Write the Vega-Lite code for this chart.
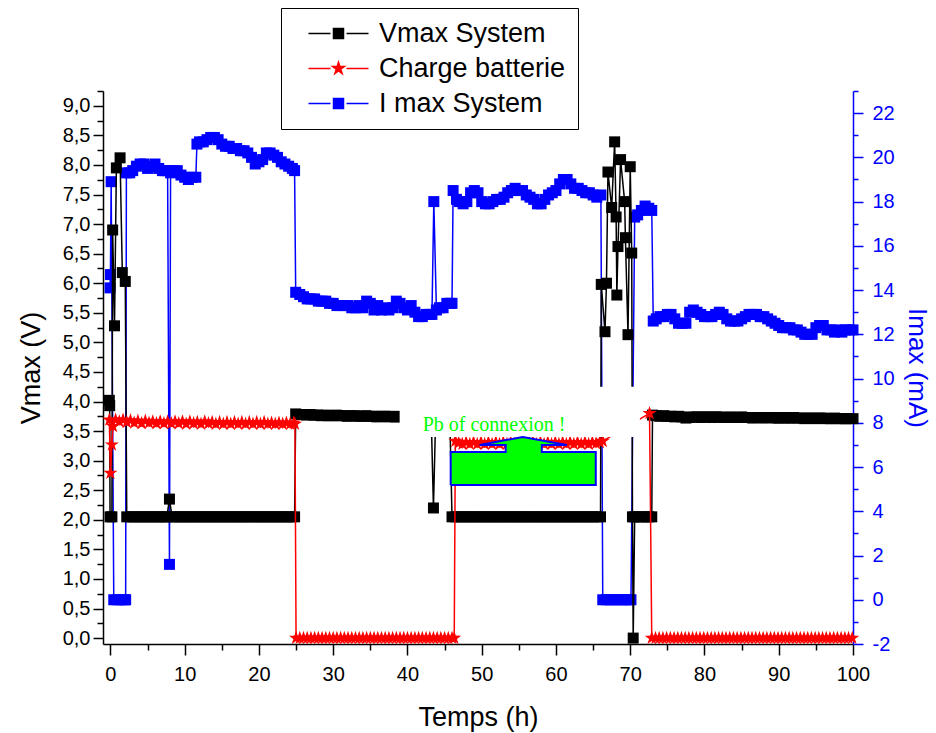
{
"$schema": "https://vega.github.io/schema/vega-lite/v6.json",
"width": 750, "height": 553,
"autosize": "none",
"padding": {"left": 103, "top": 91, "right": 83, "bottom": 89},
"background": "white",
"config": {"view": {"stroke": null}, "font": "Liberation Sans", "axis": {"grid": false, "labelFont": "Liberation Sans", "titleFont": "Liberation Sans", "titleFontWeight": "normal", "labelOverlap": false, "labelFlush": false, "labelBound": false}},
"datasets": {
"vmax": [
{"t":-0.15,"y":4.02},{"t":-0.1,"y":3.93},{"t":-0.05,"y":2.05},{"t":0.2,"y":2.05},{"t":0.3,"y":6.9},{"t":0.55,"y":5.28},{"t":0.8,"y":7.95},{"t":1.3,"y":8.12},{"t":1.6,"y":6.18},{"t":2.0,"y":6.03},{"t":2.2,"y":2.05},
{"t":2.7,"y":2.05},{"t":3.2,"y":2.05},{"t":3.7,"y":2.05},{"t":4.2,"y":2.05},{"t":4.7,"y":2.05},{"t":5.2,"y":2.05},{"t":5.7,"y":2.05},{"t":6.2,"y":2.05},{"t":6.7,"y":2.05},{"t":7.2,"y":2.05},{"t":7.6,"y":2.05},{"t":7.95,"y":2.35},{"t":8.3,"y":2.05},
{"t":8.8,"y":2.05},{"t":9.3,"y":2.05},{"t":9.8,"y":2.05},{"t":10.3,"y":2.05},{"t":10.8,"y":2.05},{"t":11.3,"y":2.05},{"t":11.8,"y":2.05},{"t":12.3,"y":2.05},{"t":12.8,"y":2.05},{"t":13.3,"y":2.05},{"t":13.8,"y":2.05},{"t":14.3,"y":2.05},{"t":14.8,"y":2.05},{"t":15.3,"y":2.05},{"t":15.8,"y":2.05},{"t":16.3,"y":2.05},{"t":16.8,"y":2.05},{"t":17.3,"y":2.05},{"t":17.8,"y":2.05},{"t":18.3,"y":2.05},{"t":18.8,"y":2.05},{"t":19.3,"y":2.05},{"t":19.8,"y":2.05},{"t":20.3,"y":2.05},{"t":20.8,"y":2.05},{"t":21.3,"y":2.05},{"t":21.8,"y":2.05},{"t":22.3,"y":2.05},{"t":22.8,"y":2.05},{"t":23.3,"y":2.05},{"t":23.8,"y":2.05},{"t":24.3,"y":2.05},{"t":24.8,"y":2.05},
{"t":24.95,"y":3.79},{"t":25.4,"y":3.78},{"t":25.9,"y":3.78},{"t":26.4,"y":3.77},{"t":26.9,"y":3.78},{"t":27.4,"y":3.77},{"t":27.9,"y":3.77},{"t":28.4,"y":3.76},{"t":28.9,"y":3.77},{"t":29.4,"y":3.76},{"t":29.9,"y":3.76},{"t":30.4,"y":3.77},{"t":30.9,"y":3.76},{"t":31.4,"y":3.76},{"t":31.9,"y":3.75},{"t":32.4,"y":3.76},{"t":32.9,"y":3.76},{"t":33.4,"y":3.75},{"t":33.9,"y":3.75},{"t":34.4,"y":3.76},{"t":34.9,"y":3.75},{"t":35.4,"y":3.75},{"t":35.9,"y":3.74},{"t":36.4,"y":3.75},{"t":36.9,"y":3.75},{"t":37.4,"y":3.74},{"t":37.9,"y":3.75},{"t":38.4,"y":3.74},{"t":38.9,"y":3.74},{"t":39.4,"y":3.75},{"t":39.9,"y":3.75},{"t":40.4,"y":3.74},{"t":40.9,"y":3.75},{"t":41.4,"y":3.75},{"t":41.9,"y":3.74},{"t":42.4,"y":3.75},{"t":42.9,"y":3.75},{"t":43.2,"y":3.75},{"t":43.5,"y":2.2},{"t":43.8,"y":3.75},{"t":44.3,"y":3.75},{"t":44.8,"y":3.74},{"t":45.3,"y":3.75},{"t":45.7,"y":3.75},
{"t":46.0,"y":2.05},{"t":46.5,"y":2.05},{"t":47.0,"y":2.05},{"t":47.5,"y":2.05},{"t":48.0,"y":2.05},{"t":48.5,"y":2.05},{"t":49.0,"y":2.05},{"t":49.5,"y":2.05},{"t":50.0,"y":2.05},{"t":50.5,"y":2.05},{"t":51.0,"y":2.05},{"t":51.5,"y":2.05},{"t":52.0,"y":2.05},{"t":52.5,"y":2.05},{"t":53.0,"y":2.05},{"t":53.5,"y":2.05},{"t":54.0,"y":2.05},{"t":54.5,"y":2.05},{"t":55.0,"y":2.05},{"t":55.5,"y":2.05},{"t":56.0,"y":2.05},{"t":56.5,"y":2.05},{"t":57.0,"y":2.05},{"t":57.5,"y":2.05},{"t":58.0,"y":2.05},{"t":58.5,"y":2.05},{"t":59.0,"y":2.05},{"t":59.5,"y":2.05},{"t":60.0,"y":2.05},{"t":60.5,"y":2.05},{"t":61.0,"y":2.05},{"t":61.5,"y":2.05},{"t":62.0,"y":2.05},{"t":62.5,"y":2.05},{"t":63.0,"y":2.05},{"t":63.5,"y":2.05},{"t":64.0,"y":2.05},{"t":64.5,"y":2.05},{"t":65.0,"y":2.05},{"t":65.5,"y":2.05},{"t":66.0,"y":2.05},
{"t":66.1,"y":5.98},{"t":66.6,"y":5.18},{"t":66.8,"y":6.0},{"t":67.0,"y":7.88},{"t":67.5,"y":7.28},{"t":67.9,"y":8.39},{"t":68.1,"y":7.12},{"t":68.2,"y":5.8},{"t":68.35,"y":6.62},{"t":68.7,"y":8.09},{"t":69.25,"y":7.38},{"t":69.35,"y":6.77},{"t":69.7,"y":5.13},{"t":70.0,"y":7.97},{"t":70.2,"y":6.51},{"t":70.3,"y":2.05},{"t":70.4,"y":0.0},{"t":70.6,"y":2.05},{"t":71.1,"y":2.05},{"t":71.6,"y":2.05},{"t":72.1,"y":2.05},{"t":72.5,"y":2.05},{"t":72.9,"y":2.05},
{"t":73.0,"y":3.77},{"t":73.5,"y":3.76},{"t":74.0,"y":3.75},{"t":74.5,"y":3.76},{"t":75.0,"y":3.75},{"t":75.5,"y":3.75},{"t":76.0,"y":3.74},{"t":76.5,"y":3.75},{"t":77.0,"y":3.74},{"t":77.5,"y":3.72},{"t":78.0,"y":3.73},{"t":78.5,"y":3.74},{"t":79.0,"y":3.74},{"t":79.5,"y":3.73},{"t":80.0,"y":3.74},{"t":80.5,"y":3.74},{"t":81.0,"y":3.73},{"t":81.5,"y":3.74},{"t":82.0,"y":3.74},{"t":82.5,"y":3.73},{"t":83.0,"y":3.73},{"t":83.5,"y":3.74},{"t":84.0,"y":3.73},{"t":84.5,"y":3.73},{"t":85.0,"y":3.74},{"t":85.5,"y":3.73},{"t":86.0,"y":3.73},{"t":86.5,"y":3.72},{"t":87.0,"y":3.73},{"t":87.5,"y":3.73},{"t":88.0,"y":3.72},{"t":88.5,"y":3.73},{"t":89.0,"y":3.73},{"t":89.5,"y":3.72},{"t":90.0,"y":3.72},{"t":90.5,"y":3.73},{"t":91.0,"y":3.72},{"t":91.5,"y":3.72},{"t":92.0,"y":3.73},{"t":92.5,"y":3.72},{"t":93.0,"y":3.72},{"t":93.5,"y":3.71},{"t":94.0,"y":3.72},{"t":94.5,"y":3.72},{"t":95.0,"y":3.71},{"t":95.5,"y":3.72},{"t":96.0,"y":3.72},{"t":96.5,"y":3.71},{"t":97.0,"y":3.71},{"t":97.5,"y":3.72},{"t":98.0,"y":3.71},{"t":98.5,"y":3.71},{"t":99.0,"y":3.71},{"t":99.5,"y":3.71},{"t":100.0,"y":3.71}
],
"charge": [
{"t":-0.15,"y":3.69},{"t":0.0,"y":2.79},{"t":0.2,"y":3.27},{"t":0.35,"y":3.58},{"t":0.7,"y":3.69},{"t":1.2,"y":3.66},{"t":1.7,"y":3.69},{"t":2.2,"y":3.65},{"t":2.7,"y":3.68},{"t":3.2,"y":3.64},{"t":3.7,"y":3.67},{"t":4.2,"y":3.63},{"t":4.7,"y":3.67},{"t":5.2,"y":3.64},{"t":5.7,"y":3.66},{"t":6.2,"y":3.63},{"t":6.7,"y":3.66},{"t":7.2,"y":3.63},{"t":7.7,"y":3.66},{"t":8.2,"y":3.63},{"t":8.7,"y":3.66},{"t":9.2,"y":3.63},{"t":9.7,"y":3.66},{"t":10.2,"y":3.62},{"t":10.7,"y":3.66},{"t":11.2,"y":3.63},{"t":11.7,"y":3.65},{"t":12.2,"y":3.62},{"t":12.7,"y":3.66},{"t":13.2,"y":3.63},{"t":13.7,"y":3.65},{"t":14.2,"y":3.62},{"t":14.7,"y":3.65},{"t":15.2,"y":3.62},{"t":15.7,"y":3.65},{"t":16.2,"y":3.62},{"t":16.7,"y":3.65},{"t":17.2,"y":3.62},{"t":17.7,"y":3.65},{"t":18.2,"y":3.62},{"t":18.7,"y":3.65},{"t":19.2,"y":3.62},{"t":19.7,"y":3.65},{"t":20.2,"y":3.62},{"t":20.7,"y":3.65},{"t":21.2,"y":3.62},{"t":21.7,"y":3.64},{"t":22.2,"y":3.62},{"t":22.7,"y":3.64},{"t":23.2,"y":3.62},{"t":23.7,"y":3.64},{"t":24.2,"y":3.62},{"t":24.7,"y":3.64},{"t":24.85,"y":3.62},
{"t":25.0,"y":0},{"t":25.5,"y":0},{"t":26.0,"y":0},{"t":26.5,"y":0},{"t":27.0,"y":0},{"t":27.5,"y":0},{"t":28.0,"y":0},{"t":28.5,"y":0},{"t":29.0,"y":0},{"t":29.5,"y":0},{"t":30.0,"y":0},{"t":30.5,"y":0},{"t":31.0,"y":0},{"t":31.5,"y":0},{"t":32.0,"y":0},{"t":32.5,"y":0},{"t":33.0,"y":0},{"t":33.5,"y":0},{"t":34.0,"y":0},{"t":34.5,"y":0},{"t":35.0,"y":0},{"t":35.5,"y":0},{"t":36.0,"y":0},{"t":36.5,"y":0},{"t":37.0,"y":0},{"t":37.5,"y":0},{"t":38.0,"y":0},{"t":38.5,"y":0},{"t":39.0,"y":0},{"t":39.5,"y":0},{"t":40.0,"y":0},{"t":40.5,"y":0},{"t":41.0,"y":0},{"t":41.5,"y":0},{"t":42.0,"y":0},{"t":42.5,"y":0},{"t":43.0,"y":0},{"t":43.5,"y":0},{"t":44.0,"y":0},{"t":44.5,"y":0},{"t":45.0,"y":0},{"t":45.5,"y":0},{"t":46.0,"y":0},{"t":46.3,"y":0},
{"t":46.45,"y":3.33},{"t":46.9,"y":3.3},{"t":47.4,"y":3.28},{"t":47.9,"y":3.31},{"t":48.4,"y":3.28},{"t":48.9,"y":3.31},{"t":49.4,"y":3.28},{"t":49.9,"y":3.31},{"t":50.4,"y":3.28},{"t":50.9,"y":3.31},{"t":51.4,"y":3.28},{"t":51.9,"y":3.31},{"t":52.4,"y":3.28},{"t":52.9,"y":3.31},{"t":53.4,"y":3.28},{"t":53.9,"y":3.31},{"t":54.4,"y":3.28},{"t":54.9,"y":3.31},{"t":55.4,"y":3.28},{"t":55.9,"y":3.31},{"t":56.4,"y":3.28},{"t":56.9,"y":3.31},{"t":57.4,"y":3.28},{"t":57.9,"y":3.31},{"t":58.4,"y":3.28},{"t":58.9,"y":3.31},{"t":59.4,"y":3.28},{"t":59.9,"y":3.31},{"t":60.4,"y":3.28},{"t":60.9,"y":3.31},{"t":61.4,"y":3.28},{"t":61.9,"y":3.31},{"t":62.4,"y":3.28},{"t":62.9,"y":3.31},{"t":63.4,"y":3.28},{"t":63.9,"y":3.31},{"t":64.4,"y":3.28},{"t":64.9,"y":3.31},{"t":65.4,"y":3.29},{"t":65.9,"y":3.31},{"t":66.3,"y":3.33},
{"t":72.6,"y":3.8},{"t":72.9,"y":0},{"t":73.4,"y":0},{"t":73.9,"y":0},{"t":74.4,"y":0},{"t":74.9,"y":0},{"t":75.4,"y":0},{"t":75.9,"y":0},{"t":76.4,"y":0},{"t":76.9,"y":0},{"t":77.4,"y":0},{"t":77.9,"y":0},{"t":78.4,"y":0},{"t":78.9,"y":0},{"t":79.4,"y":0},{"t":79.9,"y":0},{"t":80.4,"y":0},{"t":80.9,"y":0},{"t":81.4,"y":0},{"t":81.9,"y":0},{"t":82.4,"y":0},{"t":82.9,"y":0},{"t":83.4,"y":0},{"t":83.9,"y":0},{"t":84.4,"y":0},{"t":84.9,"y":0},{"t":85.4,"y":0},{"t":85.9,"y":0},{"t":86.4,"y":0},{"t":86.9,"y":0},{"t":87.4,"y":0},{"t":87.9,"y":0},{"t":88.4,"y":0},{"t":88.9,"y":0},{"t":89.4,"y":0},{"t":89.9,"y":0},{"t":90.4,"y":0},{"t":90.9,"y":0},{"t":91.4,"y":0},{"t":91.9,"y":0},{"t":92.4,"y":0},{"t":92.9,"y":0},{"t":93.4,"y":0},{"t":93.9,"y":0},{"t":94.4,"y":0},{"t":94.9,"y":0},{"t":95.4,"y":0},{"t":95.9,"y":0},{"t":96.4,"y":0},{"t":96.9,"y":0},{"t":97.4,"y":0},{"t":97.9,"y":0},{"t":98.4,"y":0},{"t":98.9,"y":0},{"t":99.4,"y":0},{"t":99.9,"y":0}
],
"imax": [
{"t":-0.05,"y":14.1},{"t":0.0,"y":14.7},{"t":0.1,"y":18.9},{"t":0.45,"y":0.0},{"t":0.9,"y":0.0},{"t":1.4,"y":0.0},{"t":1.9,"y":0.0},{"t":2.05,"y":0.0},{"t":2.15,"y":19.3},{"t":2.6,"y":19.3},{"t":3.0,"y":19.4},{"t":3.5,"y":19.6},{"t":4.0,"y":19.7},{"t":4.5,"y":19.7},{"t":5.0,"y":19.5},{"t":5.5,"y":19.6},{"t":6.0,"y":19.7},{"t":6.5,"y":19.5},{"t":7.0,"y":19.4},{"t":7.4,"y":19.4},{"t":7.7,"y":19.4},{"t":7.95,"y":1.6},{"t":8.1,"y":19.3},{"t":8.5,"y":19.4},{"t":9.0,"y":19.4},{"t":9.5,"y":19.2},{"t":10.0,"y":19.1},{"t":10.5,"y":19.0},{"t":11.0,"y":19.1},{"t":11.5,"y":19.1},
{"t":11.65,"y":20.6},{"t":12.0,"y":20.7},{"t":12.5,"y":20.7},{"t":13.0,"y":20.8},{"t":13.5,"y":20.9},{"t":14.0,"y":20.9},{"t":14.5,"y":20.8},{"t":15.0,"y":20.6},{"t":15.5,"y":20.5},{"t":16.0,"y":20.5},{"t":16.5,"y":20.4},{"t":17.0,"y":20.4},{"t":17.5,"y":20.3},{"t":18.0,"y":20.3},{"t":18.5,"y":20.2},{"t":19.0,"y":20.0},{"t":19.5,"y":19.7},{"t":20.0,"y":19.8},{"t":20.5,"y":19.9},{"t":21.0,"y":20.2},{"t":21.5,"y":20.2},{"t":22.0,"y":20.1},{"t":22.5,"y":20.0},{"t":23.0,"y":19.8},{"t":23.5,"y":19.7},{"t":24.0,"y":19.6},{"t":24.5,"y":19.5},{"t":24.8,"y":19.4},
{"t":24.95,"y":13.9},{"t":25.5,"y":13.8},{"t":26.0,"y":13.7},{"t":26.5,"y":13.6},{"t":27.0,"y":13.6},{"t":27.5,"y":13.6},{"t":28.0,"y":13.5},{"t":28.5,"y":13.5},{"t":29.0,"y":13.5},{"t":29.5,"y":13.4},{"t":30.0,"y":13.4},{"t":30.5,"y":13.3},{"t":31.0,"y":13.3},{"t":31.5,"y":13.3},{"t":32.0,"y":13.3},{"t":32.5,"y":13.2},{"t":33.0,"y":13.2},{"t":33.5,"y":13.3},{"t":34.0,"y":13.2},{"t":34.5,"y":13.5},{"t":35.0,"y":13.4},{"t":35.5,"y":13.1},{"t":36.0,"y":13.3},{"t":36.5,"y":13.1},{"t":37.0,"y":13.2},{"t":37.5,"y":13.1},{"t":38.0,"y":13.2},{"t":38.5,"y":13.5},{"t":39.0,"y":13.4},{"t":39.5,"y":13.2},{"t":40.0,"y":13.1},{"t":40.5,"y":13.3},{"t":41.0,"y":13.0},{"t":41.5,"y":12.8},{"t":42.0,"y":12.8},{"t":42.5,"y":12.9},{"t":43.0,"y":12.9},{"t":43.3,"y":12.9},{"t":43.55,"y":18.0},{"t":43.9,"y":13.1},{"t":44.3,"y":13.2},{"t":44.8,"y":13.2},{"t":45.3,"y":13.4},{"t":45.75,"y":13.4},{"t":46.0,"y":13.4},
{"t":46.15,"y":18.5},{"t":46.6,"y":18.1},{"t":47.0,"y":18.0},{"t":47.5,"y":17.9},{"t":48.0,"y":18.0},{"t":48.5,"y":18.4},{"t":49.0,"y":18.5},{"t":49.5,"y":18.4},{"t":50.0,"y":18.0},{"t":50.5,"y":17.9},{"t":51.0,"y":17.9},{"t":51.5,"y":18.0},{"t":52.0,"y":18.1},{"t":52.5,"y":18.1},{"t":53.0,"y":18.2},{"t":53.5,"y":18.4},{"t":54.0,"y":18.5},{"t":54.5,"y":18.6},{"t":55.0,"y":18.5},{"t":55.5,"y":18.5},{"t":56.0,"y":18.3},{"t":56.5,"y":18.2},{"t":57.0,"y":18.1},{"t":57.5,"y":17.9},{"t":58.0,"y":17.9},{"t":58.5,"y":18.1},{"t":59.0,"y":18.3},{"t":59.5,"y":18.4},{"t":60.0,"y":18.5},{"t":60.5,"y":18.8},{"t":61.0,"y":19.0},{"t":61.5,"y":19.0},{"t":62.0,"y":18.8},{"t":62.5,"y":18.6},{"t":63.0,"y":18.6},{"t":63.5,"y":18.5},{"t":64.0,"y":18.4},{"t":64.5,"y":18.4},{"t":65.0,"y":18.3},{"t":65.5,"y":18.2},{"t":66.05,"y":18.3},
{"t":66.3,"y":0.0},{"t":66.8,"y":0.0},{"t":67.3,"y":0.0},{"t":67.8,"y":0.0},{"t":68.3,"y":0.0},{"t":68.8,"y":0.0},{"t":69.3,"y":0.0},{"t":69.8,"y":0.0},{"t":70.1,"y":0.0},{"t":70.6,"y":17.3},{"t":71.0,"y":17.4},{"t":71.5,"y":17.6},{"t":72.0,"y":17.8},{"t":72.5,"y":17.7},{"t":72.9,"y":17.6},
{"t":73.1,"y":12.6},{"t":73.5,"y":12.7},{"t":74.0,"y":12.8},{"t":74.5,"y":12.8},{"t":75.0,"y":12.9},{"t":75.5,"y":12.9},{"t":76.0,"y":12.7},{"t":76.5,"y":12.5},{"t":77.0,"y":12.5},{"t":77.5,"y":12.5},{"t":78.0,"y":13.0},{"t":78.5,"y":13.1},{"t":79.0,"y":13.0},{"t":79.5,"y":12.9},{"t":80.0,"y":12.8},{"t":80.5,"y":12.8},{"t":81.0,"y":12.8},{"t":81.5,"y":12.9},{"t":82.0,"y":13.0},{"t":82.5,"y":12.9},{"t":83.0,"y":12.7},{"t":83.5,"y":12.6},{"t":84.0,"y":12.6},{"t":84.5,"y":12.6},{"t":85.0,"y":12.7},{"t":85.5,"y":12.8},{"t":86.0,"y":12.9},{"t":86.5,"y":12.9},{"t":87.0,"y":12.9},{"t":87.5,"y":12.8},{"t":88.0,"y":12.8},{"t":88.5,"y":12.7},{"t":89.0,"y":12.6},{"t":89.5,"y":12.5},{"t":90.0,"y":12.4},{"t":90.5,"y":12.3},{"t":91.0,"y":12.3},{"t":91.5,"y":12.3},{"t":92.0,"y":12.2},{"t":92.5,"y":12.2},{"t":93.0,"y":12.1},{"t":93.5,"y":12.0},{"t":94.0,"y":12.0},{"t":94.5,"y":12.0},{"t":95.0,"y":12.3},{"t":95.5,"y":12.4},{"t":96.0,"y":12.4},{"t":96.5,"y":12.2},{"t":97.0,"y":12.2},{"t":97.5,"y":12.1},{"t":98.0,"y":12.2},{"t":98.5,"y":12.1},{"t":99.0,"y":12.2},{"t":99.5,"y":12.2},{"t":100.0,"y":12.2}
],
"box": [{"x1": 38.95, "x2": 71.3, "y1": 3.4, "y2": 4.25}],
"arrow": [
{"k":1,"t":45.82,"y":2.589},{"k":2,"t":45.82,"y":3.147},{"k":3,"t":53.23,"y":3.147},{"k":4,"t":53.23,"y":3.266},{"k":5,"t":49.73,"y":3.266},{"k":6,"t":55.53,"y":3.401},{"k":7,"t":61.46,"y":3.266},{"k":8,"t":58.09,"y":3.266},{"k":9,"t":58.09,"y":3.147},{"k":10,"t":65.36,"y":3.147},{"k":11,"t":65.36,"y":2.589},{"k":12,"t":45.82,"y":2.589}
],
"note": [{"t": 42.05, "y": 3.5, "txt": "Pb of connexion !"}]
},
"layer": [
{
"data": {"name": "imax"},
"mark": {"type": "line", "strokeWidth": 1.5, "point": {"filled": true, "shape": "square", "size": 121}},
"encoding": {
"x": {"field": "t", "type": "quantitative", "scale": {"domain": [-1, 100], "nice": false, "zero": false},
"axis": {"orient": "bottom", "title": "Temps (h)", "values": [0,5,10,15,20,25,30,35,40,45,50,55,60,65,70,75,80,85,90,95,100], "labelExpr": "datum.value % 10 === 0 ? '' + datum.value : ''", "tickSize": {"condition": {"test": "datum.value % 10 === 0", "value": 11}, "value": 6}, "tickColor": "black", "tickWidth": 1.5, "domainColor": "black", "domainWidth": 1.5, "labelFontSize": 20, "labelColor": "black", "labelPadding": 9, "labelOverlap": false, "titleFontSize": 27, "titleColor": "black", "titlePadding": 20}},
"y": {"field": "y", "type": "quantitative", "scale": {"domain": [-2, 23], "nice": false, "zero": false},
"axis": {"orient": "right", "title": "Imax (mA)", "values": [-2,-1,0,1,2,3,4,5,6,7,8,9,10,11,12,13,14,15,16,17,18,19,20,21,22,23], "labelExpr": "datum.value % 2 === 0 ? '' + datum.value : ''", "tickSize": {"condition": {"test": "datum.value % 2 === 0", "value": 10}, "value": 5}, "tickColor": "#0000ff", "tickWidth": 1.5, "domainColor": "#0000ff", "domainWidth": 1.5, "labelFontSize": 20, "labelColor": "#0000ff", "labelPadding": 9, "labelOverlap": false, "titleFontSize": 26, "titleColor": "#0000ff", "titlePadding": 9}},
"color": {"datum": "I max System", "scale": {"domain": ["Vmax System", "Charge batterie", "I max System"], "range": ["#000000", "#ff0000", "#0000ff"]}}
}
},
{
"layer": [
{
"data": {"name": "vmax"},
"mark": {"type": "line", "strokeWidth": 1.5, "point": {"filled": true, "shape": "square", "size": 121}},
"encoding": {
"x": {"field": "t", "type": "quantitative", "scale": {"domain": [-1, 100], "nice": false, "zero": false}, "axis": null},
"y": {"field": "y", "type": "quantitative", "scale": {"domain": [-0.1, 9.25], "nice": false, "zero": false},
"axis": {"orient": "left", "title": "Vmax (V)", "values": [0,0.25,0.5,0.75,1,1.25,1.5,1.75,2,2.25,2.5,2.75,3,3.25,3.5,3.75,4,4.25,4.5,4.75,5,5.25,5.5,5.75,6,6.25,6.5,6.75,7,7.25,7.5,7.75,8,8.25,8.5,8.75,9,9.25], "labelExpr": "datum.value % 0.5 === 0 ? replace(format(datum.value, '.1f'), '.', ',') : ''", "tickSize": {"condition": {"test": "datum.value % 0.5 === 0", "value": 10}, "value": 6}, "tickColor": "black", "tickWidth": 1.5, "domainColor": "black", "domainWidth": 1.5, "labelFontSize": 20, "labelColor": "black", "labelPadding": 3, "labelOverlap": false, "titleFontSize": 27, "titleColor": "black", "titlePadding": 17}},
"color": {"datum": "Vmax System", "scale": {"domain": ["Vmax System", "Charge batterie", "I max System"], "range": ["#000000", "#ff0000", "#0000ff"]},
"legend": {"orient": "none", "legendX": 178, "legendY": -83, "direction": "vertical", "title": null, "padding": 12, "fillColor": "white", "strokeColor": "black", "symbolSize": 100, "symbolOffset": 32, "labelOffset": 27, "rowPadding": 7, "labelFontSize": 27, "labelFont": "Liberation Sans", "labelColor": "black", "labelLimit": 400,
"encode": {"symbols": {"update": {"shape": {"signal": "datum.value === 'Charge batterie' ? 'M-6,0H-1.6M1.6,0H6M0,-1.25L0.281,-0.386L1.189,-0.386L0.454,0.148L0.735,1.011L0,0.477L-0.735,1.011L-0.454,0.148L-1.189,-0.386L-0.281,-0.386Z' : 'M-6,0H-1.6M1.6,0H6M-1,-1H1V1H-1Z'"}, "fill": {"scale": "color", "field": "value"}, "stroke": {"scale": "color", "field": "value"}, "strokeWidth": {"value": 1.5}, "opacity": {"value": 1}, "fillOpacity": {"value": 1}, "strokeOpacity": {"value": 1}}}}}}
}
},
{
"data": {"name": "charge"},
"mark": {"type": "line", "strokeWidth": 1.5, "point": {"filled": true, "shape": "M0,-1L0.2245,-0.309L0.9511,-0.309L0.3633,0.118L0.5878,0.809L0,0.382L-0.5878,0.809L-0.3633,0.118L-0.9511,-0.309L-0.2245,-0.309Z", "size": 220}},
"encoding": {
"x": {"field": "t", "type": "quantitative", "scale": {"domain": [-1, 100], "nice": false, "zero": false}, "axis": null},
"y": {"field": "y", "type": "quantitative", "scale": {"domain": [-0.1, 9.25], "nice": false, "zero": false}, "axis": null},
"color": {"datum": "Charge batterie", "scale": {"domain": ["Vmax System", "Charge batterie", "I max System"], "range": ["#000000", "#ff0000", "#0000ff"]}}
}
},
{
"data": {"name": "box"},
"mark": {"type": "rect", "fill": "white", "strokeWidth": 0},
"encoding": {
"x": {"field": "x1", "type": "quantitative", "scale": {"domain": [-1, 100], "nice": false, "zero": false}, "axis": null},
"x2": {"field": "x2"},
"y": {"field": "y1", "type": "quantitative", "scale": {"domain": [-0.1, 9.25], "nice": false, "zero": false}, "axis": null},
"y2": {"field": "y2"}
}
},
{
"data": {"name": "arrow"},
"mark": {"type": "line", "stroke": "#0000ff", "fill": "#00ff00", "strokeWidth": 2},
"encoding": {
"x": {"field": "t", "type": "quantitative", "scale": {"domain": [-1, 100], "nice": false, "zero": false}, "axis": null},
"y": {"field": "y", "type": "quantitative", "scale": {"domain": [-0.1, 9.25], "nice": false, "zero": false}, "axis": null},
"order": {"field": "k", "type": "quantitative"}
}
},
{
"data": {"name": "note"},
"mark": {"type": "text", "font": "Liberation Serif", "fontSize": 20, "color": "#00ff00", "align": "left", "baseline": "alphabetic"},
"encoding": {
"x": {"field": "t", "type": "quantitative", "scale": {"domain": [-1, 100], "nice": false, "zero": false}, "axis": null},
"y": {"field": "y", "type": "quantitative", "scale": {"domain": [-0.1, 9.25], "nice": false, "zero": false}, "axis": null},
"text": {"field": "txt"}
}
}
],
"resolve": {"axis": {"x": "independent", "y": "independent"}}
}
],
"resolve": {"scale": {"y": "independent"}, "axis": {"x": "independent"}}
}
